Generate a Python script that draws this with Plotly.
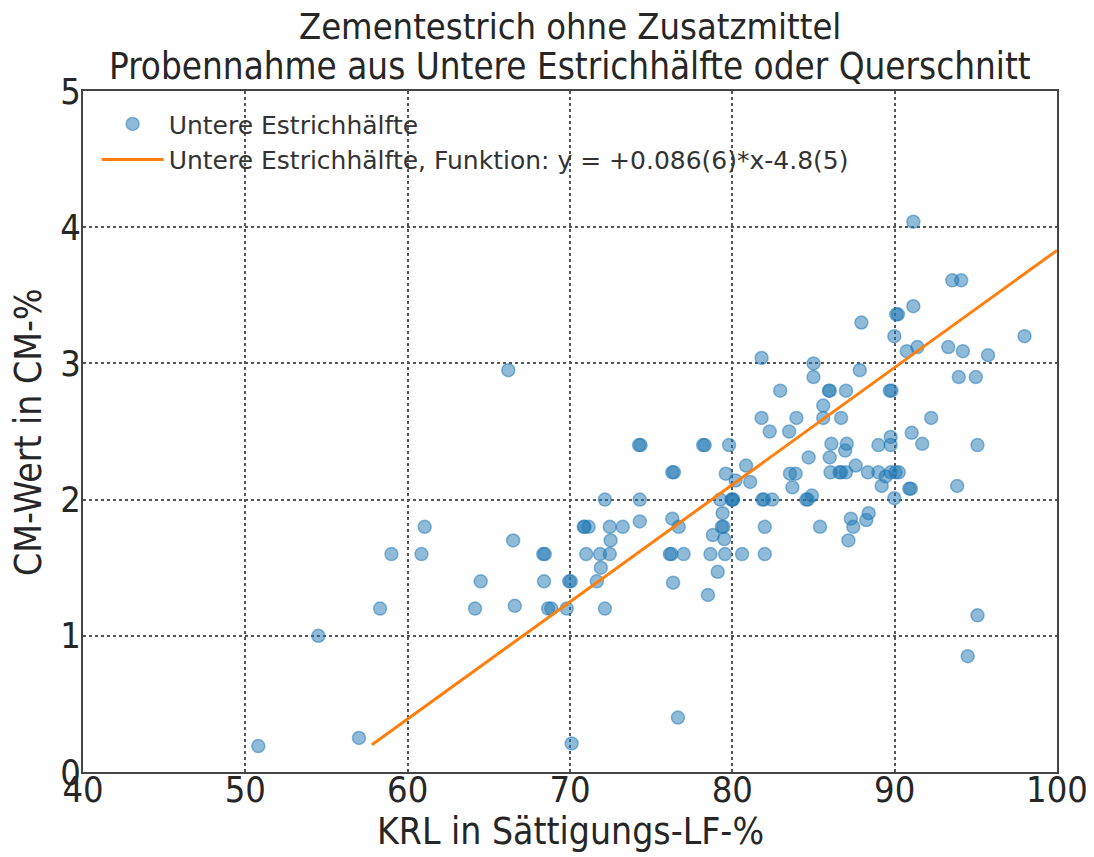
import plotly.graph_objects as go

# KRL in Saettigungs-LF-% (x) and CM-Wert in CM-% (y)
krl = [
    50.8, 54.5, 57.0, 58.3, 59.0,
    60.85, 61.05, 64.15, 64.5, 66.2, 66.5, 66.6, 68.35, 68.45, 68.4, 68.65, 68.85,
    69.8, 69.95, 70.05, 70.1,
    70.85, 70.9, 71.15, 71.0, 71.85, 72.45, 71.9, 71.65, 72.15, 72.15, 72.45, 73.25,
    72.5, 74.25, 74.35, 74.3, 74.3,
    76.15, 76.25, 76.3, 76.4, 76.3, 76.7, 76.35, 77.0, 76.65, 78.2, 78.3, 78.5, 78.65,
    78.8, 79.1, 79.25, 79.4, 79.35, 79.45, 79.5, 79.55, 79.6, 79.8, 79.95, 80.0, 80.05,
    80.2, 80.6, 80.85, 81.1, 81.8, 81.8, 81.85, 81.95, 82.45, 82.0, 82.0, 82.3, 82.95,
    83.5, 83.55, 83.9, 83.7, 83.95, 84.55, 84.65, 84.9, 84.7,
    85.0, 85.0, 85.4, 85.6, 85.6, 85.95, 86.0, 86.0, 86.05, 86.1, 86.6, 86.7, 86.7,
    87.0, 86.95, 87.0, 87.05, 87.15, 87.3, 87.45, 87.6, 87.85, 87.95, 88.25, 88.35,
    88.4, 89.0, 89.0, 89.2, 89.45, 89.7, 89.8, 89.75, 89.75, 89.75, 89.98, 89.98,
    90.05, 90.25, 90.1, 90.2, 90.75, 90.9, 91.0, 91.05, 91.15, 91.15, 91.4, 91.7,
    92.25, 93.3, 93.55, 93.85, 93.95, 94.1, 94.2, 94.5, 95.0, 95.1, 95.1, 95.75, 98.0,
]
cm = [
    0.19, 1.0, 0.25, 1.2, 1.6,
    1.6, 1.8, 1.2, 1.4, 2.95, 1.7, 1.22, 1.6, 1.6, 1.4, 1.2, 1.2,
    1.2, 1.4, 1.4, 0.21,
    1.8, 1.8, 1.8, 1.6, 1.6, 1.6, 1.5, 1.4, 1.2, 2.0, 1.8, 1.8,
    1.7, 2.4, 2.4, 2.0, 1.84,
    1.6, 1.6, 2.2, 2.2, 1.86, 1.8, 1.39, 1.6, 0.4, 2.4, 2.4, 1.3, 1.6,
    1.74, 1.47, 2.0, 1.9, 1.8, 1.8, 1.71, 1.6, 2.19, 2.4, 2.0, 2.0, 2.0,
    2.14, 1.6, 2.25, 2.13, 2.6, 3.04, 2.0, 2.0, 2.0, 1.8, 1.6, 2.5, 2.8,
    2.5, 2.19, 2.19, 2.09, 2.6, 2.0, 2.0, 2.03, 2.31,
    3.0, 2.9, 1.8, 2.69, 2.6, 2.8, 2.8, 2.31, 2.2, 2.41, 2.2, 2.2, 2.6,
    2.2, 2.36, 2.8, 2.41, 1.7, 1.86, 1.8, 2.25, 2.95, 3.3, 1.85, 2.2,
    1.9, 2.4, 2.2, 2.1, 2.17, 2.8, 2.8, 2.46, 2.4, 2.2, 3.2, 2.01,
    2.2, 2.2, 3.36, 3.36, 3.09, 2.08, 2.08, 2.49, 4.04, 3.42, 3.12, 2.41,
    2.6, 3.12, 3.61, 2.1, 2.9, 3.61, 3.09, 0.85, 2.9, 2.4, 1.15, 3.06, 3.2,
]

# fitted line endpoints (y = +0.086(6)*x-4.8(5))
fit_x = [57.8, 100.0]
fit_y = [0.2, 3.83]

BLUE = 'rgba(31,119,180,0.5)'
ORANGE = '#ff7f0e'
FONT = 'DejaVu Sans Condensed, DejaVu Sans, sans-serif'
TXT = '#262626'

fig = go.Figure()
fig.add_trace(go.Scatter(
    x=krl, y=cm,
    mode='markers',
    name='Untere Estrichhälfte',
    marker=dict(size=13, color=BLUE, line=dict(color=BLUE, width=1.5))
))
fig.add_trace(go.Scatter(
    x=fit_x, y=fit_y,
    mode='lines',
    name='Untere Estrichhälfte, Funktion: y = +0.086(6)*x-4.8(5)',
    line=dict(color=ORANGE, width=3)
))

# title lines and axis titles as annotations so they sit where the reference has them
fig.add_annotation(text='Zementestrich ohne Zusatzmittel', xref='paper', yref='paper',
                   x=0.5, y=1, xanchor='center', yanchor='middle', yshift=65,
                   showarrow=False, font=dict(size=36, family=FONT, color=TXT))
fig.add_annotation(text='Probennahme aus Untere Estrichhälfte oder Querschnitt', xref='paper', yref='paper',
                   x=0.5, y=1, xanchor='center', yanchor='middle', yshift=25,
                   showarrow=False, font=dict(size=36.5, family=FONT, color=TXT))
fig.add_annotation(text='KRL in Sättigungs-LF-%', xref='paper', yref='paper',
                   x=0.5, y=0, xanchor='center', yanchor='top', yshift=-36,
                   showarrow=False, font=dict(size=37, family=FONT, color=TXT))
fig.add_annotation(text='CM-Wert in CM-%', xref='paper', yref='paper',
                   x=0, y=0.5, xanchor='right', yanchor='middle', xshift=-31, textangle=-90,
                   showarrow=False, font=dict(size=37, family=FONT, color=TXT))

# the page adds an 8px body margin, so the figure is shifted by 8px
fig.update_layout(
    width=1086,
    height=849,
    margin=dict(l=75, r=37, t=83, b=85, autoexpand=False),
    plot_bgcolor='white',
    paper_bgcolor='white',
    font=dict(family=FONT, color=TXT),
    legend=dict(
        x=0.014, y=0.985, xanchor='left', yanchor='top',
        bgcolor='rgba(255,255,255,0)',
        font=dict(size=25, family='DejaVu Sans, sans-serif', color='#333333'),
        itemwidth=62,
        tracegroupgap=2
    ),
    showlegend=True
)

fig.update_xaxes(
    range=[40, 100],
    dtick=10,
    automargin=False,
    mirror=True,
    showline=True,
    linecolor='#444444',
    linewidth=2,
    ticks='',
    ticklabelstandoff=-15,
    ticklabeloverflow='allow',
    showgrid=True,
    gridcolor='#555555',
    griddash='dot',
    gridwidth=1.5,
    zeroline=False,
    tickfont=dict(size=36, family=FONT, color=TXT)
)
fig.update_yaxes(
    range=[0, 5],
    dtick=1,
    automargin=False,
    mirror=True,
    showline=True,
    linecolor='#444444',
    linewidth=2,
    ticks='',
    ticklabelstandoff=-7,
    showgrid=True,
    gridcolor='#555555',
    griddash='dot',
    gridwidth=1.5,
    zeroline=False,
    tickfont=dict(size=36, family=FONT, color=TXT)
)

fig.write_html("out.html")
